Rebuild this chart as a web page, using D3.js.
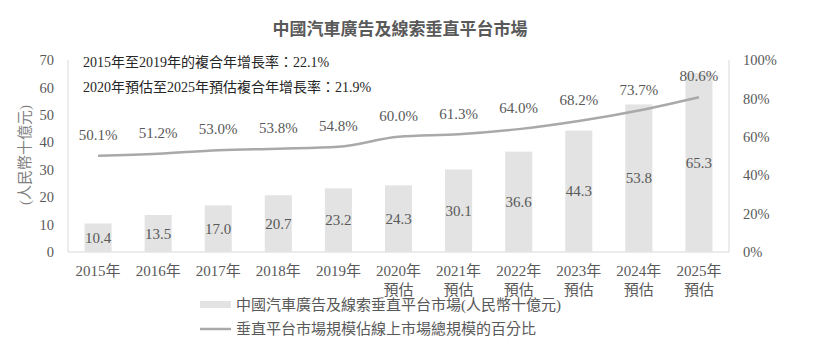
<!DOCTYPE html>
<html><head><meta charset="utf-8">
<script src="https://cdn.jsdelivr.net/npm/d3@7/dist/d3.min.js"></script>
<style>
html,body{margin:0;padding:0;background:#fff;}
svg{display:block;font-family:"Liberation Serif","Noto Sans CJK TC",serif;}
</style></head>
<body><svg id="c" width="830" height="344"></svg>
<script>
const years = ["2015年","2016年","2017年","2018年","2019年","2020年\n預估","2021年\n預估","2022年\n預估","2023年\n預估","2024年\n預估","2025年\n預估"];
const marketSize = [10.4,13.5,17.0,20.7,23.2,24.3,30.1,36.6,44.3,53.8,65.3];
const verticalShare = [50.1,51.2,53.0,53.8,54.8,60.0,61.3,64.0,68.2,73.7,80.6];
const leftTicks = [0,10,20,30,40,50,60,70];
const rightTicks = [0,20,40,60,80,100];
const titleText = "中國汽車廣告及線索垂直平台市場";
const notes = ["2015年至2019年的複合年增長率：22.1%","2020年預估至2025年預估複合年增長率：21.9%"];
const legendLabels = ["中國汽車廣告及線索垂直平台市場(人民幣十億元)","垂直平台市場規模佔線上市場總規模的百分比"];
const yTitle = "(人民幣十億元)";

const svg = d3.select("#c");
const m = {l:68, r:729, t:60, b:252};
const textCol = "#595959", axisCol = "#d9d9d9", barCol = "#e2e3e2", lineCol = "#a9a9a9";

const x = d3.scaleBand().domain(years).range([m.l, m.r]).paddingInner(0.55).paddingOuter(0.275);
const yL = d3.scaleLinear().domain([0,70]).range([m.b, m.t]);
const yR = d3.scaleLinear().domain([0,100]).range([m.b, m.t]);
const cx = i => x(years[i]) + x.bandwidth()/2;

// title
svg.append("text").attr("x",400).attr("y",35).attr("text-anchor","middle")
  .attr("font-size",17).attr("font-weight","bold").attr("fill",textCol).text(titleText);

// axis frame lines
svg.append("line").attr("x1",m.l).attr("x2",m.l).attr("y1",m.t).attr("y2",m.b).attr("stroke",axisCol);
svg.append("line").attr("x1",m.r).attr("x2",m.r).attr("y1",m.t).attr("y2",m.b).attr("stroke",axisCol);
svg.append("line").attr("x1",m.l).attr("x2",m.r).attr("y1",m.b).attr("y2",m.b).attr("stroke",axisCol);

// left axis
const gl = svg.append("g").attr("transform",`translate(${m.l},0)`)
  .call(d3.axisLeft(yL).tickValues(leftTicks).tickSize(0).tickPadding(14));
gl.select(".domain").remove();
gl.selectAll("text").attr("font-size",14.5).attr("fill",textCol).attr("font-family","Liberation Serif");

// right axis
const gr = svg.append("g").attr("transform",`translate(${m.r},0)`)
  .call(d3.axisRight(yR).tickValues(rightTicks).tickSize(0).tickPadding(14).tickFormat(d=>d+"%"));
gr.select(".domain").remove();
gr.selectAll("text").attr("font-size",14.5).attr("fill",textCol).attr("font-family","Liberation Serif");

// y title
svg.append("text").attr("transform","translate(25,155) rotate(-90)").attr("text-anchor","middle")
  .attr("dy","0.35em").attr("font-size",15).attr("fill","#7f7f7f").text(yTitle);

// x labels
const gx = svg.append("g");
years.forEach((y,i) => {
  const t = gx.append("text").attr("x", cx(i)).attr("y", 276)
    .attr("text-anchor","middle").attr("font-size",15).attr("fill",textCol);
  y.split("\n").forEach((p,k)=> t.append("tspan").attr("x", cx(i)).attr("dy", k?19:0).text(p));
});

// bars
svg.append("g").selectAll("rect").data(marketSize).join("rect")
  .attr("x",(d,i)=>x(years[i])).attr("width",x.bandwidth())
  .attr("y",d=>yL(d)).attr("height",d=>m.b-yL(d)).attr("fill",barCol);

// bar value labels
svg.append("g").selectAll("text").data(marketSize).join("text")
  .attr("x",(d,i)=>cx(i))
  .attr("y",d=>(yL(d)+m.b)/2).attr("dy","0.35em")
  .attr("text-anchor","middle").attr("font-size",15).attr("fill",textCol)
  .text(d=>d.toFixed(1));

// share line
const line = d3.line().x((d,i)=>cx(i)).y(d=>yR(d)).curve(d3.curveMonotoneX);
svg.append("path").datum(verticalShare).attr("d",line).attr("fill","none")
  .attr("stroke",lineCol).attr("stroke-width",2.5);

// share labels
svg.append("g").selectAll("text").data(verticalShare).join("text")
  .attr("x",(d,i)=>cx(i))
  .attr("y",d=>yR(d)-21).attr("dy","0.35em")
  .attr("text-anchor","middle").attr("font-size",15).attr("fill",textCol)
  .text(d=>d.toFixed(1)+"%");

// growth-rate notes
notes.forEach((n,i)=>{
  svg.append("text").attr("x",83).attr("y",67+i*25).attr("font-size",14).attr("fill","#262626").text(n);
});

// legend
svg.append("rect").attr("x",200).attr("y",301).attr("width",31).attr("height",7).attr("fill",barCol);
svg.append("text").attr("x",236).attr("y",310).attr("font-size",15).attr("fill",textCol).text(legendLabels[0]);
svg.append("line").attr("x1",200).attr("x2",231).attr("y1",329).attr("y2",329).attr("stroke",lineCol).attr("stroke-width",2.5);
svg.append("text").attr("x",236).attr("y",334).attr("font-size",15).attr("fill",textCol).text(legendLabels[1]);
</script></body></html>
